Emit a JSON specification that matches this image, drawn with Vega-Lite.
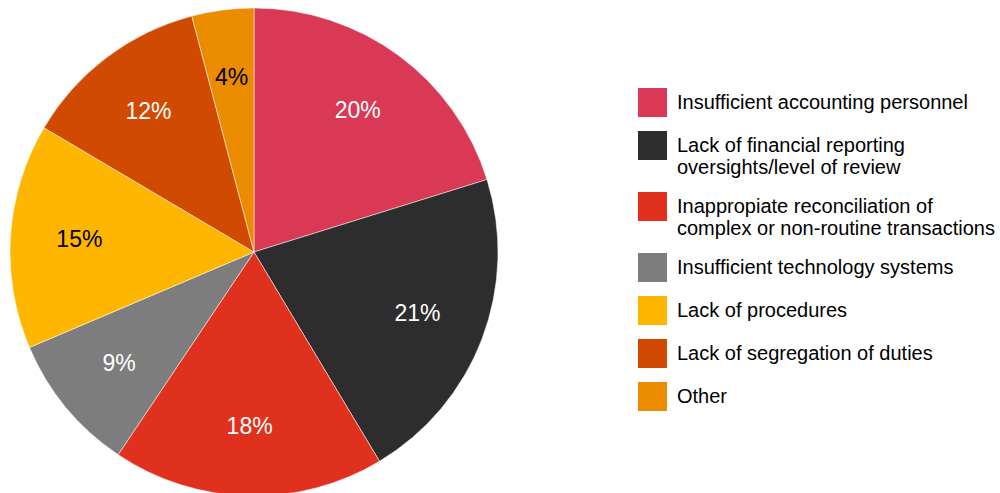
{
  "$schema": "https://vega.github.io/schema/vega-lite/v6.json",
  "autosize": "none",
  "padding": {"left": 0, "top": 0, "right": 492, "bottom": 0},
  "width": 508,
  "height": 504,
  "background": "white",
  "data": {
    "values": [
      {"idx": 1, "cause": "Insufficient accounting personnel", "value": 20.2, "label": "20%"},
      {"idx": 2, "cause": "Lack of financial reporting|oversights/level of review", "value": 21.2, "label": "21%"},
      {"idx": 3, "cause": "Inappropiate reconciliation of|complex or non-routine transactions", "value": 18.0, "label": "18%"},
      {"idx": 4, "cause": "Insufficient technology systems", "value": 9.2, "label": "9%"},
      {"idx": 5, "cause": "Lack of procedures", "value": 14.9, "label": "15%"},
      {"idx": 6, "cause": "Lack of segregation of duties", "value": 12.4, "label": "12%"},
      {"idx": 7, "cause": "Other", "value": 4.1, "label": "4%"}
    ]
  },
  "encoding": {
    "theta": {"field": "value", "type": "quantitative", "stack": true},
    "order": {"field": "idx", "type": "quantitative"}
  },
  "layer": [
    {
      "mark": {"type": "arc", "radius": 244, "stroke": "#ffffff", "strokeWidth": 0.5},
      "encoding": {
        "color": {
          "field": "cause",
          "type": "nominal",
          "sort": null,
          "scale": {
            "domain": [
              "Insufficient accounting personnel",
              "Lack of financial reporting|oversights/level of review",
              "Inappropiate reconciliation of|complex or non-routine transactions",
              "Insufficient technology systems",
              "Lack of procedures",
              "Lack of segregation of duties",
              "Other"
            ],
            "range": ["#D93954", "#2D2D2D", "#E0301E", "#7D7D7D", "#FFB600", "#D04A02", "#EB8C00"]
          },
          "legend": {
            "title": null,
            "orient": "none",
            "legendX": 638,
            "legendY": 88,
            "symbolType": "square",
            "symbolSize": 841,
            "symbolStrokeWidth": 0,
            "symbolOpacity": 1,
            "labelFont": "Liberation Sans",
            "labelFontSize": 20,
            "labelColor": "#000000",
            "labelLimit": 400,
            "labelOffset": 10,
            "rowPadding": 14,
            "labelExpr": "split(datum.label, '|')",
            "encode": {"labels": {"update": {"lineHeight": {"value": 23}}}}
          }
        }
      }
    },
    {
      "mark": {"type": "text", "radius": 175, "font": "Liberation Sans", "fontSize": 23},
      "encoding": {
        "text": {"field": "label", "type": "nominal"},
        "color": {
          "condition": {"test": "datum.idx == 5 || datum.idx == 7", "value": "#000000"},
          "value": "#ffffff"
        }
      }
    }
  ]
}
